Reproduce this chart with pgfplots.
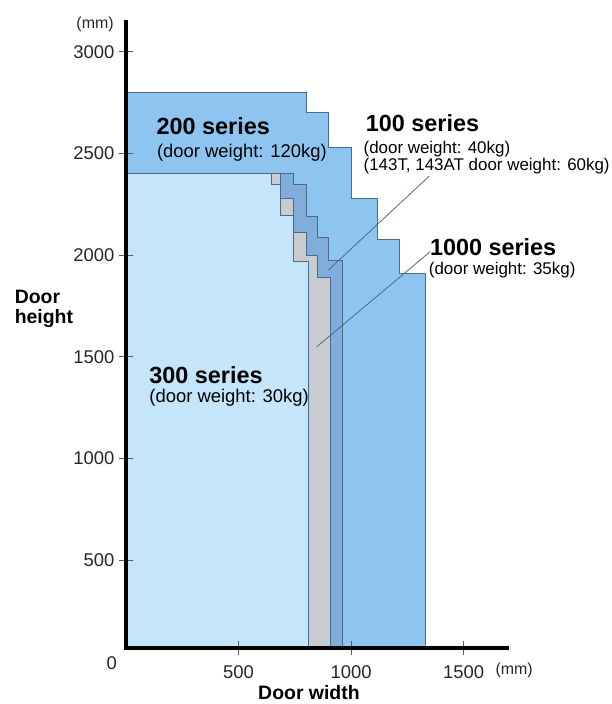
\documentclass[border=0pt]{standalone}
\usepackage{pgfplots}
\pgfplotsset{compat=1.18}
\usepackage{fontspec}
\setmainfont{Liberation Sans}
\definecolor{sTwo}{HTML}{8DC5F0}
\definecolor{sOne}{HTML}{7FAEDD}
\definecolor{sThou}{HTML}{C8CCD0}
\definecolor{sThree}{HTML}{C4E5FA}
\definecolor{edge}{HTML}{4D6A88}
\tikzset{lbl/.style={anchor=base west, inner sep=0pt, font=\bfseries\fontsize{23.5}{26}\selectfont},
         sub/.style={anchor=base west, inner sep=0pt, font=\fontsize{#1}{20}\selectfont}}
\begin{document}
\begin{tikzpicture}
\path[use as bounding box] (-126bp,-56bp) rectangle (486bp,648bp);
\begin{axis}[
  at={(0,0)}, anchor=south west,
  width=381bp, height=626.3bp, scale only axis,
  xmin=0, xmax=1693, ymin=67, ymax=3148,
  axis x line*=bottom, axis y line*=left,
  axis line style={line width=4bp, black, line cap=rect},
  xtick={500,1000,1500}, ytick={500,1000,...,3000},
  xtick pos=bottom, ytick pos=left,
  tick align=center, major tick length=14bp,
  tick style={line width=0.8bp, color=gray!70!black},
  ticklabel style={font=\fontsize{18.5}{20}\selectfont, text=black!85},
  /pgf/number format/assume math mode=true,
  /pgf/number format/1000 sep={},
  xticklabel style={yshift=-7bp},
  yticklabel style={xshift=-1bp},
  axis on top,
  clip mode=individual,
]
% 200 series
\addplot[fill=sTwo, draw=edge, line width=0.8bp] coordinates {
 (0,0) (0,2800) (800,2800) (800,2700) (900,2700) (900,2530) (1000,2530)
 (1000,2280) (1115,2280) (1115,2075) (1215,2075) (1215,1910) (1330,1910) (1330,0)} -- cycle;
% 100 series
\addplot[fill=sOne, draw=edge, line width=0.8bp] coordinates {
 (0,0) (0,2400) (745,2400) (745,2350) (800,2350) (800,2190) (850,2190)
 (850,2085) (900,2085) (900,1975) (960,1975) (960,0)} -- cycle;
% 1000 series
\addplot[fill=sThou, draw=edge, line width=0.8bp] coordinates {
 (0,0) (0,2400) (685,2400) (685,2280) (745,2280) (745,2113) (800,2113)
 (800,2000) (850,2000) (850,1890) (910,1890) (910,0)} -- cycle;
% 300 series
\addplot[fill=sThree, draw=edge, line width=0.8bp] coordinates {
 (0,0) (0,2400) (645,2400) (645,2350) (685,2350) (685,2197) (745,2197)
 (745,1968) (810,1968) (810,0)} -- cycle;
% leader lines
\draw[edge, line width=0.8bp] (axis cs:1348,2389) -- (axis cs:900,1927);
\draw[edge, line width=0.8bp] (axis cs:1352,2017) -- (axis cs:848,1549);
% labels
\node[lbl] at (axis cs:135,2591) {200 series};
\node[sub=18.5] at (axis cs:137,2481) {(door weight: 120kg)};
\node[lbl] at (axis cs:1065,2607) {100 series};
\node[sub=17] at (axis cs:1055,2501) {(door weight: 40kg)};
\node[sub=17] at (axis cs:1055,2414) {(143T, 143AT door weight: 60kg)};
\node[lbl] at (axis cs:1350,2000) {1000 series};
\node[sub=17] at (axis cs:1345,1902) {(door weight: 35kg)};
\node[lbl] at (axis cs:103,1366) {300 series};
\node[sub=18.5] at (axis cs:103,1274) {(door weight: 30kg)};
% axis titles and units
\node[anchor=base, inner sep=0pt, font=\bfseries\fontsize{19.5}{22}\selectfont] at (axis cs:813,-188) {Door width};
\node[anchor=base west, inner sep=0pt, font=\bfseries\fontsize{19.5}{22}\selectfont] at (axis cs:-495,1763) {Door};
\node[anchor=base west, inner sep=0pt, font=\bfseries\fontsize{19.5}{22}\selectfont] at (axis cs:-495,1665) {height};
\node[anchor=base west, inner sep=0pt, font=\fontsize{16}{18}\selectfont, text=black!85] at (axis cs:1641,-65) {(mm)};
\node[anchor=base east, inner sep=0pt, font=\fontsize{16}{18}\selectfont, text=black!85] at (axis cs:-54,3115) {(mm)};
\node[font=\fontsize{18.5}{20}\selectfont, text=black!85] at (axis cs:-63,-6) {0};
\end{axis}
\end{tikzpicture}
\end{document}
